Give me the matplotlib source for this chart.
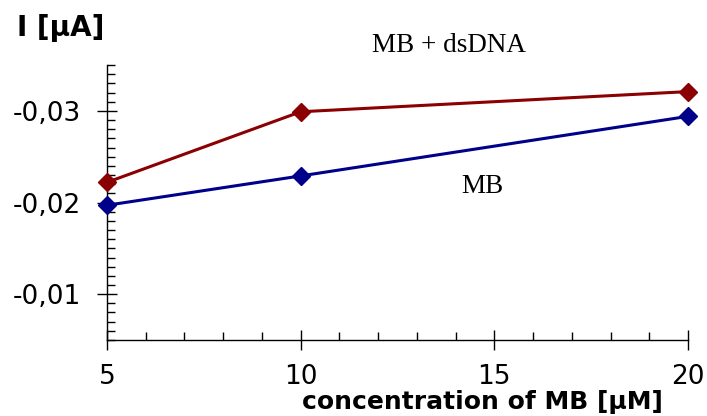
import matplotlib.pyplot as plt
from matplotlib.ticker import MultipleLocator, FuncFormatter

# data
conc = [5, 10, 20]
mb_dsdna = [-0.0222, -0.0299, -0.0321]
mb = [-0.0197, -0.0229, -0.0294]

red = '#8b0000'
blue = '#00008b'

fig = plt.figure(figsize=(7.07, 4.16), dpi=100)
ax = fig.add_axes([0.1513, 0.1827, 0.8218, 0.661])

ax.plot(conc, mb_dsdna, color=red, lw=2.2, marker='D', ms=9.5, clip_on=False, zorder=3)
ax.plot(conc, mb, color=blue, lw=2.2, marker='D', ms=9.5, clip_on=False, zorder=3)

ax.set_xlim(5, 20)
ax.set_ylim(-0.005, -0.035)

for s in ['top', 'right']:
    ax.spines[s].set_visible(False)
for s in ['left', 'bottom']:
    ax.spines[s].set_linewidth(1.0)

ax.xaxis.set_major_locator(MultipleLocator(5))
ax.xaxis.set_minor_locator(MultipleLocator(1))
ax.yaxis.set_major_locator(MultipleLocator(0.01))
ax.yaxis.set_minor_locator(MultipleLocator(0.001))
ax.yaxis.set_major_formatter(FuncFormatter(lambda v, p: ('%.2f' % v).replace('.', ',')))

ax.tick_params(which='major', direction='inout', length=14, width=1, labelsize=19)
ax.tick_params(which='minor', direction='in', length=6, width=1)
ax.tick_params(axis='x', which='major', pad=10)
ax.tick_params(axis='y', which='major', pad=12)

fig.text(0.024, 0.932, 'I [μA]', fontsize=20, fontweight='bold', ha='left', va='center')
ax.set_xlabel('concentration of MB [μM]', fontsize=18, fontweight='bold')
ax.xaxis.set_label_coords(0.647, -0.225)
ax.xaxis.label.set_va('center')

ax.text(13.84, -0.0371, 'MB + dsDNA', fontsize=19.5, family='Liberation Serif', ha='center', va='center')
ax.text(14.7, -0.0217, 'MB', fontsize=19.5, family='Liberation Serif', ha='center', va='center')

fig.savefig('out.png', dpi=100)
